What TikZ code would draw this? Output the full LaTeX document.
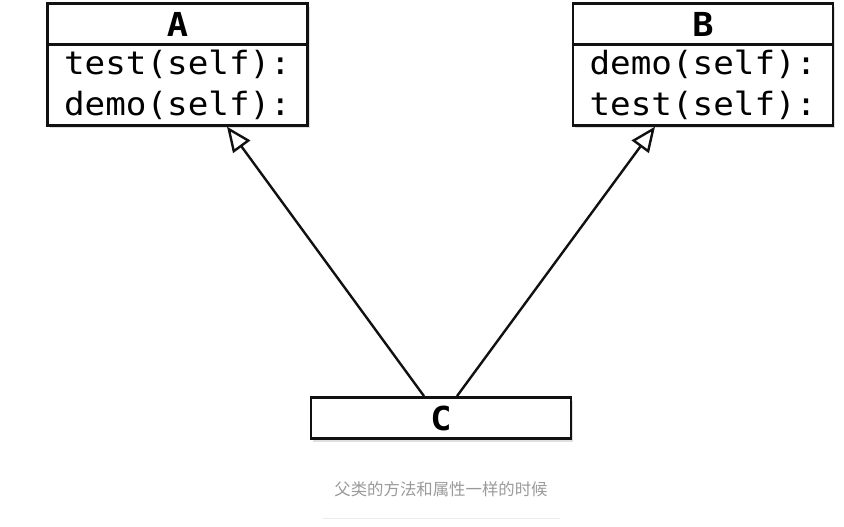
\documentclass[tikz,border=0pt]{standalone}
\usepackage{fontspec}
\newfontfamily\codefont[FakeStretch=1.07]{DejaVu Sans Mono}
\newfontfamily\cjk{Noto Sans CJK SC}
\usetikzlibrary{positioning,arrows.meta,shadows}
\definecolor{ink}{HTML}{111111}
\definecolor{captiongray}{HTML}{9A9A9A}
\definecolor{faintrule}{HTML}{ECECEC}

\begin{document}
\begin{tikzpicture}[x=1pt,y=-1pt,
    classhead/.style={draw=ink,line width=2.8pt,fill=white,minimum width=260pt,minimum height=41pt,inner sep=0pt,
      font=\codefont\bfseries\fontsize{33}{36}\selectfont,
      drop shadow={shadow xshift=2pt,shadow yshift=-3pt,opacity=0.25}},
    classbody/.style={classhead,minimum height=80.5pt,align=left,font=\codefont\fontsize{32}{41}\selectfont},
    inherit/.style={draw=ink,line width=2.4pt,-{Triangle[open,length=25pt,width=21pt,line width=2.4pt]}}]
  \useasboundingbox (0,0) rectangle (844,527);
  % parent A
  \node[classhead] (Ahead) at (177.5,24.25) {A};
  \node[classbody,below=-2.8pt of Ahead] (Abody) {test(self):\\demo(self):};
  % parent B
  \node[classhead] (Bhead) at (703,24.25) {B};
  \node[classbody,below=-2.8pt of Bhead] (Bbody) {demo(self):\\test(self):};
  % child C
  \node[classhead] (C) at (441,418) {C};
  % inheritance
  \draw[inherit] ([xshift=-17pt]C.north) -- ([xshift=49.5pt]Abody.south);
  \draw[inherit] ([xshift=16pt]C.north) -- ([xshift=-48pt]Bbody.south);
  % caption
  \node[font=\cjk\fontsize{16.4}{19}\selectfont,text=captiongray] (caption) at (441,489) {父类的方法和属性一样的时候};
  \draw[faintrule,line width=1pt] (323,518) -- (560,518);
\end{tikzpicture}
\end{document}
